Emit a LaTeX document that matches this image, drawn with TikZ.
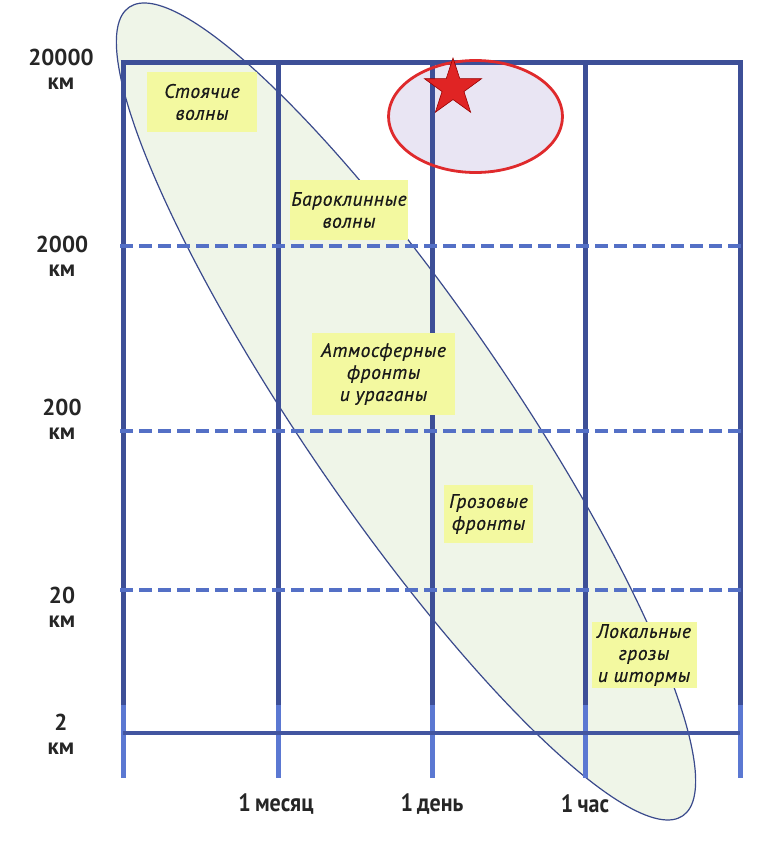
\documentclass[tikz,border=0pt]{standalone}
\usepackage{fontspec}
\setmainfont{PT Sans}
\newfontfamily\lblfont{PT Sans}[LetterSpace=3,FakeBold=0.6]
\newfontfamily\axfont{PT Sans}
\newfontfamily\condfont{PT Sans}[FakeStretch=0.88]
\usetikzlibrary{shapes.geometric}
\definecolor{griddark}{HTML}{3D4F97}
\definecolor{gridlight}{HTML}{5B78D2}
\definecolor{dashblue}{HTML}{5470C6}
\definecolor{ellfill}{HTML}{EFF5E8}
\definecolor{ellline}{HTML}{3A4A8C}
\definecolor{boxyellow}{HTML}{F3F9A0}
\definecolor{redline}{HTML}{DF2A2C}
\definecolor{lavender}{HTML}{E9E5F3}
\definecolor{starred}{HTML}{E02424}
\begin{document}
\begin{tikzpicture}[x=1pt,y=-1pt,
  vline/.style={line width=5pt,griddark},
  vlow/.style={line width=5pt,gridlight},
  dline/.style={line width=3.8pt,dashblue,dash pattern=on 13pt off 6pt},
  lbox/.style={fill=boxyellow,inner sep=0pt,align=center,font=\lblfont\itshape\fontsize{19.5}{22}\selectfont,text=black!90},
  axlab/.style={font=\axfont\bfseries\fontsize{23}{24}\selectfont,text=black!85,inner sep=0pt,align=center},
  timelab/.style={font=\condfont\bfseries\fontsize{25}{25}\selectfont,text=black!85,inner sep=0pt}]
\useasboundingbox (0,0) rectangle (768,841);
% big ellipse
\coordinate (ec) at (406,411.5);
\draw[fill=ellfill,draw=ellline,line width=1.2pt,rotate around={-55.6:(ec)}] (ec) ellipse [x radius=490pt, y radius=103pt];
% small ellipse fill
\coordinate (sc) at (475.5,116.5);
\fill[lavender] (sc) ellipse [x radius=87pt, y radius=56pt];
% grid coordinates
\foreach \n/\x in {a/123,b/278,c/432,d/585,e/740}{
  \coordinate (\n top) at (\x,62);
  \coordinate (\n mid) at (\x,705);
  \coordinate (\n bot) at (\x,778);
}
\foreach \n in {a,b,c,d,e}{
  \draw[vlow] (\n mid) -- (\n bot);
  \draw[vline] (\n top) -- (\n mid);
}
\coordinate (tl) at (120.5,62); \coordinate (tr) at (742.5,62);
\draw[vline] (tl) -- (tr);
\coordinate (bl) at (123,733); \coordinate (br) at (740,733);
\draw[line width=4pt,color=griddark!85!gridlight] (bl) -- (br);
\foreach \y in {246,431,590}{
  \coordinate (dl\y) at (120,\y); \coordinate (dr\y) at (742,\y);
  \draw[dline] (dl\y) -- (dr\y);
}
% small ellipse outline and star
\draw[redline,line width=2.8pt] (sc) ellipse [x radius=87pt, y radius=56pt];
\node[star,star points=5,star point ratio=2.6,minimum size=60pt,inner sep=0pt,fill=starred,draw=red!60!black,line width=0.6pt] (star) at (453,88) {};
% label boxes
\node[lbox,minimum width=110pt,minimum height=60pt] (b1) at (202,102) {Стоячие\\волны};
\node[lbox,minimum width=118pt,minimum height=60pt] (b2) at (349,210) {Бароклинные\\волны};
\node[lbox,minimum width=143pt,minimum height=82pt] (b3) at (383.5,374) {Атмосферные\\фронты\\и ураганы};
\node[lbox,minimum width=89pt,minimum height=58pt] (b4) at (488.5,514) {Грозовые\\фронты};
\node[lbox,minimum width=105pt,minimum height=66pt] (b5) at (644,655) {Локальные\\грозы\\и штормы};
% axis labels
\node[axlab] (y1) at (61,69) {20000\\км};
\node[axlab] (y2) at (62,256) {2000\\км};
\node[axlab] (y3) at (62,419) {200\\км};
\node[axlab] (y4) at (62,607) {20\\км};
\node[axlab] (y5) at (61,734) {2\\км};
\node[timelab] (t1) at (276,804) {1\,месяц};
\node[timelab] (t2) at (432,804) {1\,день};
\node[timelab] (t3) at (585,804) {1\,час};
\end{tikzpicture}
\end{document}
